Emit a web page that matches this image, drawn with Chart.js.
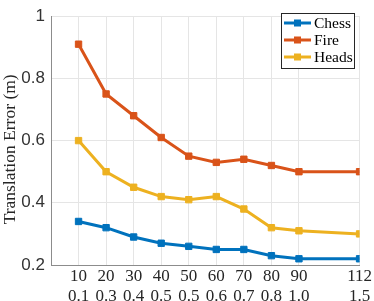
<!DOCTYPE html>
<html>
<head>
<meta charset="utf-8">
<script src="https://cdn.jsdelivr.net/npm/chart.js@4/dist/chart.umd.min.js"></script>
<style>
  html, body { margin: 0; padding: 0; background: #fff; }
  #wrap { width: 374px; height: 301px; }
</style>
</head>
<body>
<div id="wrap"><canvas id="c" width="374" height="301"></canvas></div>
<script>
// x positions (first tick line) and second tick line
const xValues = [10, 20, 30, 40, 50, 60, 70, 80, 90, 112];
const xSecond = ["0.1", "0.3", "0.4", "0.5", "0.5", "0.6", "0.7", "0.8", "1.0", "1.5"];
const yTicks = [0.2, 0.4, 0.6, 0.8, 1];

const chess = [0.34, 0.32, 0.29, 0.27, 0.26, 0.25, 0.25, 0.23, 0.22, 0.22];
const fire = [0.91, 0.75, 0.68, 0.61, 0.55, 0.53, 0.54, 0.52, 0.50, 0.50];
const heads = [0.60, 0.50, 0.45, 0.42, 0.41, 0.42, 0.38, 0.32, 0.31, 0.30];

const serif = "'Liberation Serif', 'DejaVu Serif', serif";
const sans = "'Liberation Sans', Arial, sans-serif";

function maakSerie(label, values, kleur) {
  return {
    label: label,
    data: values.map((v, i) => ({ x: xValues[i], y: v })),
    borderColor: kleur,
    backgroundColor: kleur,
    borderWidth: 3,
    pointStyle: "rect",
    pointRadius: 4.5,
    pointBorderWidth: 1,
    pointBorderColor: kleur,
    pointBackgroundColor: kleur,
    tension: 0,
  };
}

// legend in de rechterbovenhoek van het plotgebied
const legendeBinnen = {
  id: "legendeBinnen",
  afterDraw(chart) {
    const ctx = chart.ctx;
    const x0 = 281, y0 = 13, w = 73, h = 55;
    ctx.save();
    ctx.fillStyle = "#fff";
    ctx.fillRect(x0, y0, w, h);
    ctx.strokeStyle = "#262626";
    ctx.lineWidth = 1;
    ctx.strokeRect(x0 + 0.5, y0 + 0.5, w, h);
    ctx.font = "15.5px " + serif;
    ctx.textBaseline = "middle";
    chart.data.datasets.forEach((ds, i) => {
      const yy = y0 + 10 + i * 17;
      ctx.strokeStyle = ds.borderColor;
      ctx.lineWidth = 3;
      ctx.beginPath();
      ctx.moveTo(x0 + 3, yy);
      ctx.lineTo(x0 + 30, yy);
      ctx.stroke();
      ctx.fillStyle = ds.borderColor;
      ctx.fillRect(x0 + 16.5 - 3.5, yy - 3.5, 7, 7);
      ctx.fillStyle = "#000";
      ctx.fillText(ds.label, x0 + 33, yy + 1);
    });
    ctx.restore();
  },
};

new Chart(document.getElementById("c"), {
  type: "line",
  data: {
    datasets: [
      maakSerie("Chess", chess, "#0072BD"),
      maakSerie("Fire", fire, "#D95319"),
      maakSerie("Heads", heads, "#EDB120"),
    ],
  },
  options: {
    responsive: false,
    animation: false,
    layout: { autoPadding: false, padding: { top: 6, right: 12, left: 0, bottom: 0 } },
    plugins: { legend: { display: false }, tooltip: { enabled: false } },
    scales: {
      x: {
        type: "linear",
        min: 0,
        max: 112,
        afterBuildTicks(scale) {
          scale.ticks = xValues.map((v) => ({ value: v }));
        },
        afterFit(scale) { scale.height = 36; },
        grid: { color: "#e5e5e5", drawTicks: false },
        border: { color: "#8c8c8c", width: 1 },
        ticks: {
          maxRotation: 0,
          autoSkip: false,
          padding: 2,
          color: "#262626",
          font: { family: serif, size: 17, lineHeight: 1.15 },
          callback(value) {
            const i = xValues.indexOf(value);
            return [String(value), xSecond[i]];
          },
        },
      },
      y: {
        min: 0.2,
        max: 1,
        afterBuildTicks(scale) {
          scale.ticks = yTicks.map((v) => ({ value: v }));
        },
        afterFit(scale) { scale.width = 51; },
        grid: { color: "#e5e5e5", drawTicks: false },
        border: { color: "#8c8c8c", width: 1 },
        ticks: {
          padding: 6,
          color: "#333333",
          font: { family: sans, size: 17 },
          callback(value) { return String(+value.toFixed(1)); },
        },
        title: {
          display: true,
          text: "Translation Error (m)\u2003",
          color: "#262626",
          padding: 0,
          font: { family: serif, size: 17.5 },
        },
      },
    },
  },
  plugins: [legendeBinnen],
});
</script>
</body>
</html>
